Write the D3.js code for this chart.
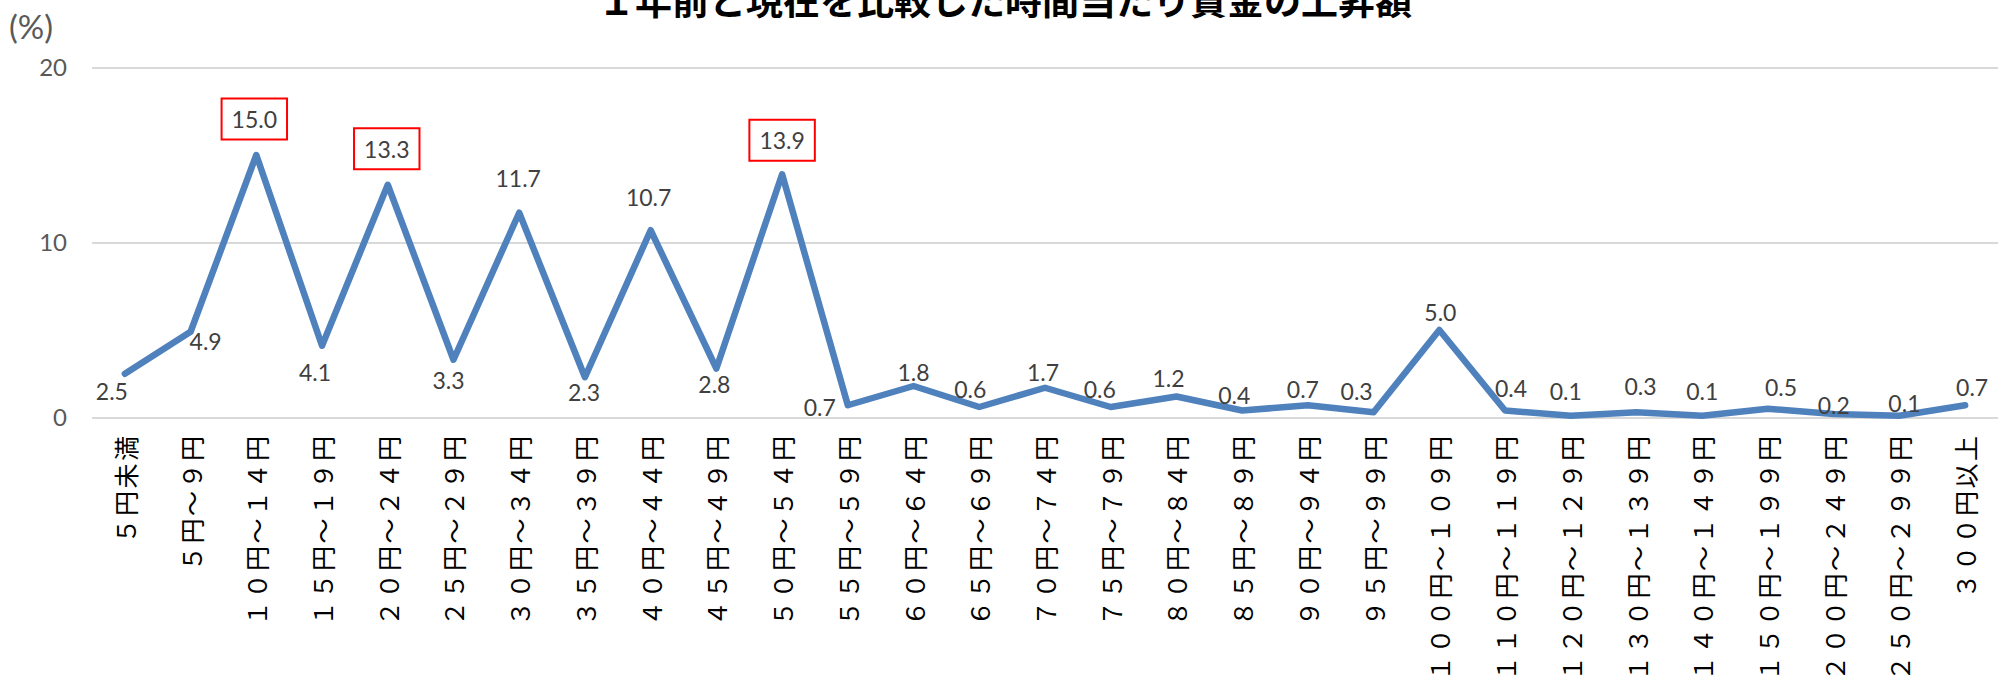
<!DOCTYPE html>
<html lang="ja">
<head>
<meta charset="utf-8">
<script src="https://cdn.jsdelivr.net/npm/d3@7"></script>
<style>
  html, body { margin: 0; padding: 0; background: #fff; }
  svg { display: block; }
</style>
</head>
<body>
<svg id="chart" width="2011" height="691"></svg>
<script>
// Wage-increase brackets (hourly wage, now vs. one year ago)
const categories = [
  "５円未満", "５円～９円", "１０円～１４円", "１５円～１９円", "２０円～２４円",
  "２５円～２９円", "３０円～３４円", "３５円～３９円", "４０円～４４円", "４５円～４９円",
  "５０円～５４円", "５５円～５９円", "６０円～６４円", "６５円～６９円", "７０円～７４円",
  "７５円～７９円", "８０円～８４円", "８５円～８９円", "９０円～９４円", "９５円～９９円",
  "１００円～１０９円", "１１０円～１１９円", "１２０円～１２９円", "１３０円～１３９円",
  "１４０円～１４９円", "１５０円～１９９円", "２００円～２４９円", "２５０円～２９９円",
  "３００円以上"
];

// Share of respondents (%)
const shares = [
  2.5, 4.9, 15.0, 4.1, 13.3, 3.3, 11.7, 2.3, 10.7, 2.8,
  13.9, 0.7, 1.8, 0.6, 1.7, 0.6, 1.2, 0.4, 0.7, 0.3,
  5.0, 0.4, 0.1, 0.3, 0.1, 0.5, 0.2, 0.1, 0.7
];

// Brackets whose value labels are framed
const framed = ["１０円～１４円", "２０円～２４円", "５０円～５４円"];

const yTicks = [0, 10, 20];
const titleText = "１年前と現在を比較した時間当たり賃金の上昇額";
const unitText = "(%)";

// Label placement relative to each point [dx, dy] (px)
const labelNudge = [
  [-13, 17], [15, 9], [-2, -36], [-7, 26], [-1, -36], [-5, 20], [-1, -35], [-1, 15],
  [-2, -33], [-2, 15], [0, -34], [-28, 2], [0, -14], [-9, -18], [-2, -16], [-11, -18],
  [-8, -19], [-8, -16], [-5, -16], [-17, -21], [1, -18], [6, -23], [-5, -25], [4, -26],
  [0, -25], [13, -22], [0, -9], [5, -13], [7, -18]
];

const svg = d3.select("#chart");
const plot = { left: 92, right: 1998, top: 67.5, bottom: 417.5 };

const x = d3.scaleBand().domain(categories).range([plot.left, plot.right]);
const y = d3.scaleLinear().domain([0, 20]).range([plot.bottom, plot.top]);
const cx = c => x(c) + x.bandwidth() / 2;

// Title
svg.append("text")
  .attr("x", 1005).attr("y", 15)
  .attr("text-anchor", "middle")
  .style("font-family", "'Noto Sans CJK JP', sans-serif")
  .style("font-weight", 700)
  .style("font-size", "37px")
  .style("fill", "#000")
  .text(titleText);

// Unit
svg.append("text")
  .attr("x", 9).attr("y", 39)
  .style("font-family", "Lato, 'Noto Sans', sans-serif")
  .style("font-size", "33px")
  .style("fill", "#595959")
  .text(unitText);

// Y axis with gridlines
const yAxis = svg.append("g")
  .attr("transform", `translate(${plot.left},0)`)
  .call(d3.axisLeft(y).tickValues(yTicks).tickSize(-(plot.right - plot.left)).tickPadding(25).tickFormat(d3.format("d")));
yAxis.select(".domain").remove();
yAxis.selectAll(".tick line").attr("stroke", "#d9d9d9").attr("stroke-width", 2);
yAxis.selectAll(".tick text")
  .style("font-family", "Lato, 'Noto Sans', sans-serif")
  .style("font-size", "24px")
  .style("fill", "#595959");

// X axis with vertical category labels
const xAxis = svg.append("g")
  .attr("transform", `translate(0,${plot.bottom})`)
  .call(d3.axisBottom(x).tickSize(0));
xAxis.select(".domain").remove();
xAxis.selectAll(".tick text")
  .attr("y", 0).attr("dy", null)
  .attr("x", -16)
  .attr("transform", "rotate(-90)")
  .attr("dominant-baseline", "central")
  .style("text-anchor", "end")
  .style("font-family", "'Noto Sans CJK JP', sans-serif")
  .style("font-size", "25px")
  .style("letter-spacing", "2.5px")
  .style("fill", "#000");

// Line
const line = d3.line().x((d, i) => cx(categories[i])).y(d => y(d));
svg.append("path")
  .datum(shares)
  .attr("d", line)
  .attr("fill", "none")
  .attr("stroke", "#4f81bd")
  .attr("stroke-width", 6.5)
  .attr("stroke-linejoin", "round")
  .attr("stroke-linecap", "round");

// Value labels
const labels = svg.append("g").selectAll("g")
  .data(shares.map((v, i) => ({ v, c: categories[i], n: labelNudge[i] })))
  .join("g")
  .attr("transform", d => `translate(${cx(d.c) + d.n[0]},${y(d.v) + d.n[1]})`);

labels.append("text")
  .attr("text-anchor", "middle")
  .attr("dominant-baseline", "central")
  .style("font-family", "Lato, 'Noto Sans', sans-serif")
  .style("font-size", "23px")
  .style("fill", "#404040")
  .text(d => d3.format(".1f")(d.v));

labels.filter(d => framed.includes(d.c)).each(function () {
  const g = d3.select(this);
  const w = g.select("text").node().getComputedTextLength();
  g.insert("rect", "text")
    .attr("x", -w / 2 - 10).attr("y", -20.5)
    .attr("width", w + 20).attr("height", 41)
    .attr("fill", "#fff")
    .attr("stroke", "#ff0000")
    .attr("stroke-width", 2);
});
</script>
</body>
</html>
